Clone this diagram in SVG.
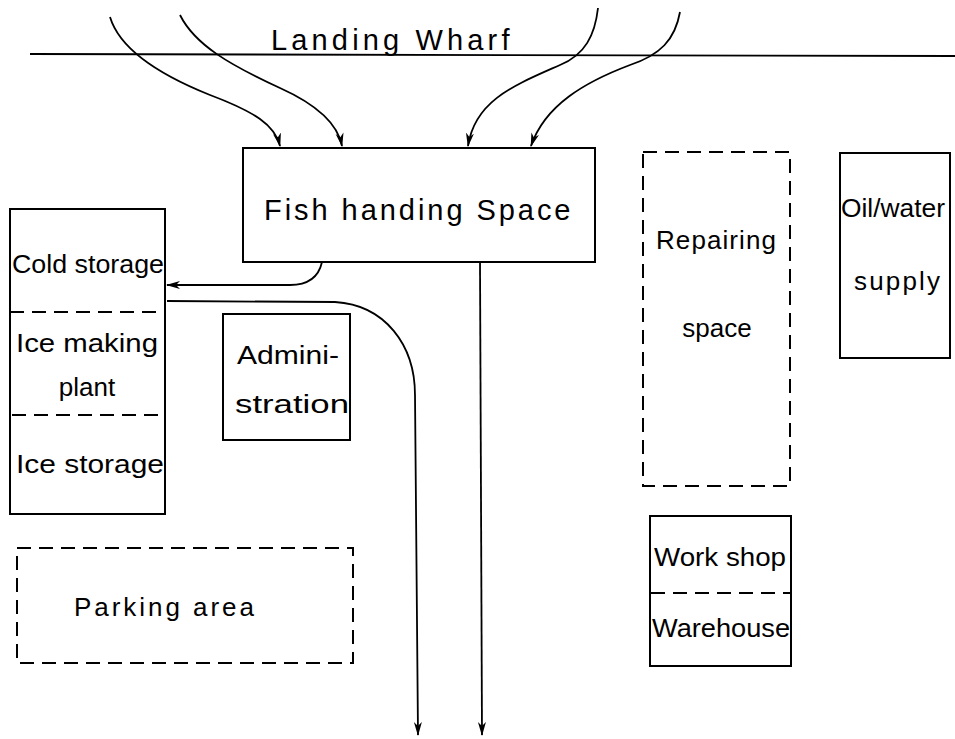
<svg xmlns="http://www.w3.org/2000/svg" width="955" height="739" viewBox="0 0 955 739">
<style>
.box{fill:none;stroke:#000;stroke-width:2}
.dash{fill:none;stroke:#000;stroke-width:2;stroke-dasharray:14,8}
.ln{fill:none;stroke:#000;stroke-width:1.8}
text{font-family:"Liberation Sans","DejaVu Sans",sans-serif;fill:#000;text-anchor:middle}
.t{font-size:26px}
.big{font-size:29px;letter-spacing:1.5px}
</style>
<defs>
<marker id="ah" viewBox="0 0 14 10" refX="13" refY="5" markerWidth="14" markerHeight="10" markerUnits="userSpaceOnUse" orient="auto">
<path d="M0,1 L14,5 L0,9 L4,5 Z" fill="#000"/>
</marker>
</defs>
<rect width="955" height="739" fill="#fff"/>
<g id="wharf">
<line x1="30" y1="54" x2="955" y2="56" class="ln"/>
<text x="391" y="50" class="big" textLength="240" lengthAdjust="spacing">Landing Wharf</text>
</g>
<g id="connectors">
<path class="ln" d="M110,17 C120,50 160,75 210,95 C255,112 275,125 280,146" marker-end="url(#ah)"/>
<path class="ln" d="M180,15 C195,45 230,65 280,88 C320,106 338,125 342,146" marker-end="url(#ah)"/>
<path class="ln" d="M598,8 C595,35 585,55 560,65 C515,85 475,100 468,146" marker-end="url(#ah)"/>
<path class="ln" d="M680,12 C675,40 660,55 630,65 C585,82 545,105 531,146" marker-end="url(#ah)"/>
<path class="ln" d="M322,262 C318,280 305,285 290,285 L167,285" marker-end="url(#ah)"/>
<path class="ln" d="M167,301 L335,302 C385,305 415,345 415,395 L418,735" marker-end="url(#ah)"/>
<path class="ln" d="M480,262 L482,735" marker-end="url(#ah)"/>
</g>
<g id="fish">
<rect x="243" y="148" width="352" height="114" class="box"/>
<text x="418" y="220" class="big" textLength="308" lengthAdjust="spacing">Fish handing Space</text>
</g>
<g id="cold">
<rect x="10" y="209" width="155" height="305" class="box"/>
<line x1="10" y1="312" x2="165" y2="312" class="dash"/>
<line x1="12" y1="415" x2="166" y2="415" class="dash"/>
<text x="88" y="273" class="t" textLength="152" lengthAdjust="spacingAndGlyphs">Cold storage</text>
<text x="87" y="352" class="t" textLength="142" lengthAdjust="spacingAndGlyphs">Ice making</text>
<text x="87" y="396" class="t">plant</text>
<text x="90" y="473" class="t" textLength="148" lengthAdjust="spacingAndGlyphs">Ice storage</text>
</g>
<g id="admin">
<rect x="223" y="314" width="127" height="126" class="box"/>
<text x="288" y="364" class="t" textLength="102" lengthAdjust="spacingAndGlyphs">Admini-</text>
<text x="292" y="413" class="t" textLength="114" lengthAdjust="spacingAndGlyphs">stration</text>
</g>
<g id="parking">
<rect x="17" y="548" width="336" height="115" class="dash"/>
<text x="164" y="616" class="t" textLength="180" lengthAdjust="spacing">Parking area</text>
</g>
<g id="repair">
<rect x="643" y="152" width="147" height="334" class="dash"/>
<text x="716" y="249" class="t" textLength="120" lengthAdjust="spacing">Repairing</text>
<text x="717" y="337" class="t">space</text>
</g>
<g id="oil">
<rect x="840" y="153" width="110" height="205" class="box"/>
<text x="893" y="217" class="t" textLength="104" lengthAdjust="spacingAndGlyphs">Oil/water</text>
<text x="897" y="290" class="t" textLength="86" lengthAdjust="spacing">supply</text>
</g>
<g id="workshop">
<rect x="650" y="516" width="141" height="150" class="box"/>
<line x1="651" y1="593" x2="791" y2="593" class="dash"/>
<text x="720" y="566" class="t" textLength="132" lengthAdjust="spacingAndGlyphs">Work shop</text>
<text x="721" y="637" class="t" textLength="138" lengthAdjust="spacingAndGlyphs">Warehouse</text>
</g>
</svg>
